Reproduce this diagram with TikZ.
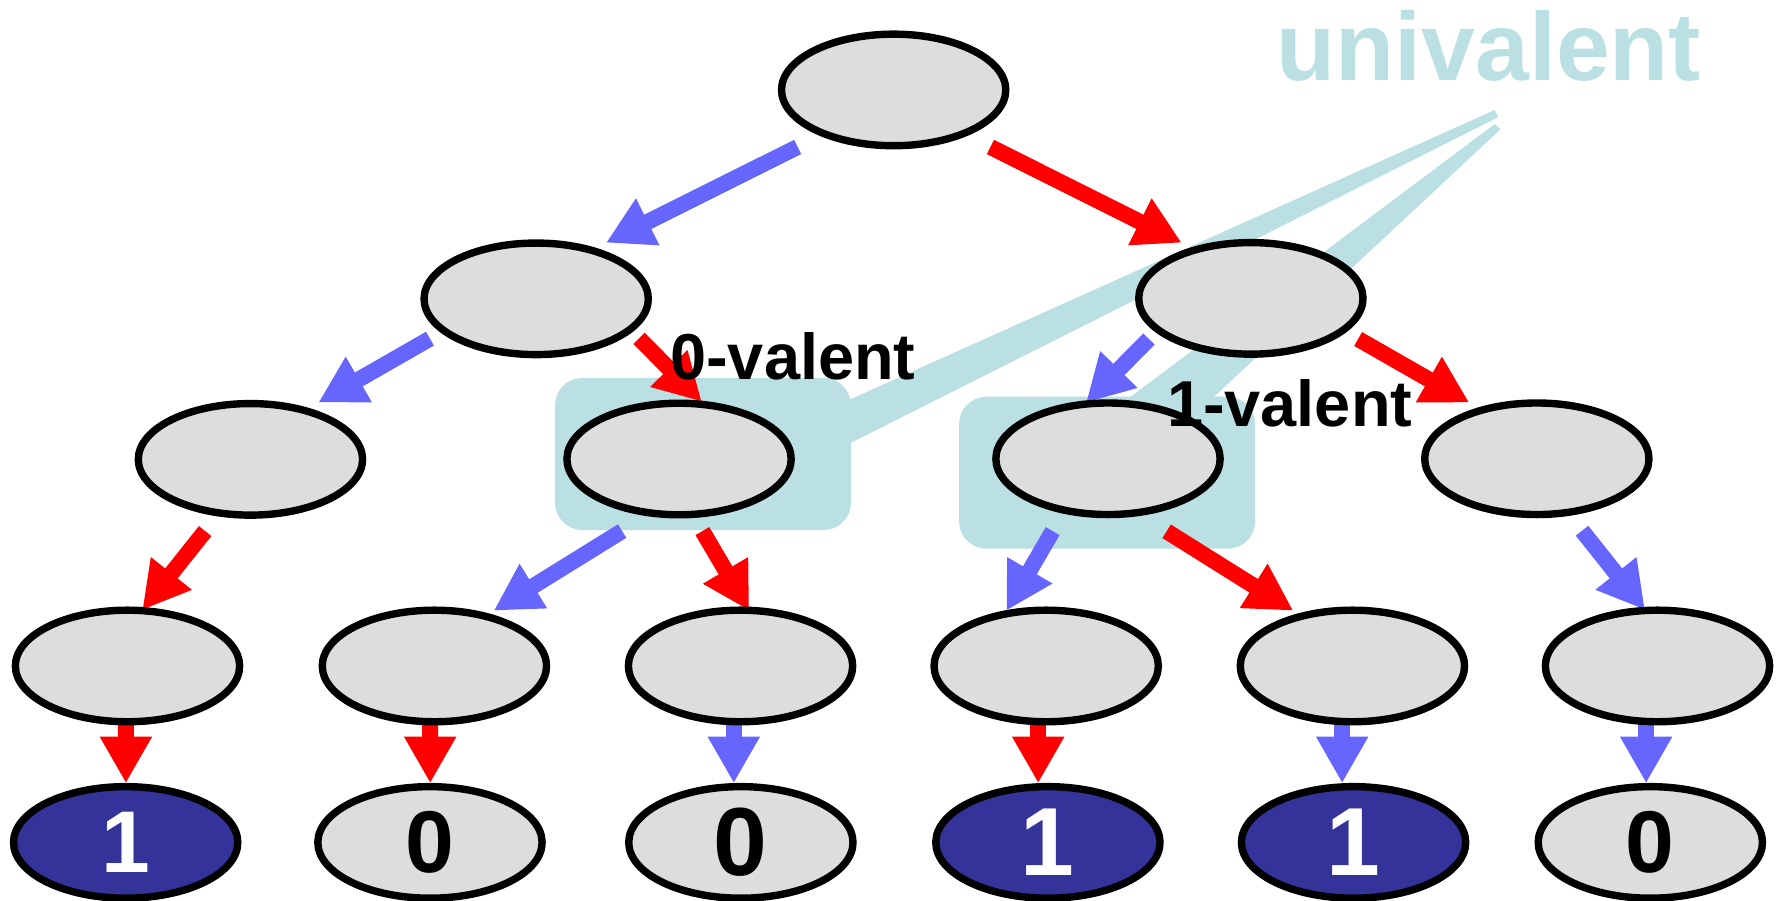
\documentclass[tikz,border=0pt]{standalone}
\usepackage{fontspec}
\setmainfont{Liberation Sans}
\usetikzlibrary{arrows.meta,shapes.geometric}
\definecolor{cal}{RGB}{187,224,227}
\definecolor{ngray}{RGB}{221,221,221}
\definecolor{nblue}{RGB}{51,51,153}
\definecolor{ablue}{RGB}{102,102,255}
\definecolor{ared}{RGB}{255,0,0}
\pgfdeclarelayer{bg}
\pgfsetlayers{bg,main}
\begin{document}
\begin{tikzpicture}[x=1pt,y=-1pt,
  st/.style={ellipse,draw=black,line width=6.5pt,fill=ngray,minimum width=197pt,minimum height=98pt,inner sep=0pt},
  leafone/.style={st,fill=nblue,text=white},
  bigd/.style={font=\fontsize{85}{90}\selectfont\bfseries},
  smalld/.style={font=\fontsize{77}{80}\selectfont\bfseries},
  arr/.style={line width=14pt,-{Triangle[width=43pt,length=41pt]}},
  ra/.style={arr,draw=ared},
  ba/.style={arr,draw=ablue},
  lbl/.style={font=\fontsize{57}{60}\selectfont\bfseries,inner sep=0pt,anchor=base west},
]
\useasboundingbox (0,0) rectangle (1568,791);

% nodes
\node[st] (root) at (785,79) {};
\node[st] (l1a) at (471,262.5) {};
\node[st] (l1b) at (1098.8,262.1) {};
\node[st] (l2a) at (220,403.5) {};
\node[st] (l2b) at (596.5,403.2) {};
\node[st] (l2c) at (973.3,403) {};
\node[st] (l2d) at (1350,403) {};
\node[st] (l3a) at (112,585) {};
\node[st] (l3b) at (381.6,585) {};
\node[st] (l3c) at (650.5,585) {};
\node[st] (l3d) at (919,585) {};
\node[st] (l3e) at (1188,585) {};
\node[st] (l3f) at (1456,585) {};
\node[leafone,smalld] (l4a) at (110.4,740) {1};
\node[st,smalld] (l4b) at (377.7,740) {0};
\node[st,bigd] (l4c) at (650.8,740) {0};
\node[leafone,bigd] (l4d) at (920.5,740) {1};
\node[leafone,bigd] (l4e) at (1189,740) {1};
\node[st,smalld] (l4f) at (1449.7,740) {0};

\begin{pgfonlayer}{bg}
\fill[white] (0,0) rectangle (1568,791);
% callouts
\fill[cal,rounded corners=24pt] (487.5,332) rectangle (747.5,465.6);
\fill[cal] (740,353.9) -- (1313,96.6) -- (1316,103) -- (740,392.7) -- cycle;
\fill[cal,rounded corners=24pt] (842.5,348.5) rectangle (1102.5,482);
\fill[cal] (984.6,355) -- (1313,109) -- (1318,113.6) -- (1059.5,355) -- cycle;
% arrows
\draw[ba] ([shift={(-84.3,50.1)}]root.center) -- ([shift={(61.3,-49.3)}]l1a.center);
\draw[ra] ([shift={(85,50.1)}]root.center) -- ([shift={(-60.8,-48.9)}]l1b.center);
\draw[ba] ([shift={(-93.3,35)}]l1a.center) -- ([shift={(59.6,-49.8)}]l2a.center);
\draw[ra] ([shift={(90.3,34.7)}]l1a.center) -- ([shift={(19.9,-50.4)}]l2b.center);
\draw[ba] ([shift={(-89.5,35.7)}]l1b.center) -- ([shift={(-19.3,-49.3)}]l2c.center);
\draw[ra] ([shift={(94.2,35.7)}]l1b.center) -- ([shift={(-59.3,-49.3)}]l2d.center);
\draw[ra] ([shift={(-39.8,63)}]l2a.center) -- ([shift={(13,-49.2)}]l3a.center);
\draw[ba] ([shift={(-50,63.3)}]l2b.center) -- ([shift={(52.1,-48.6)}]l3b.center);
\draw[ra] ([shift={(20.5,63.3)}]l2b.center) -- ([shift={(7.6,-48.6)}]l3c.center);
\draw[ba] ([shift={(-48.6,63.5)}]l2c.center) -- ([shift={(-35,-48.6)}]l3d.center);
\draw[ra] ([shift={(51.5,63.7)}]l2c.center) -- ([shift={(-52,-48.6)}]l3e.center);
\draw[ba] ([shift={(39.7,63.2)}]l2d.center) -- ([shift={(-11,-49.2)}]l3f.center);
\draw[ra] ([shift={(-1.4,50)}]l3a.center) -- ([shift={(0.2,-52)}]l4a.center);
\draw[ra] ([shift={(-3.7,50)}]l3b.center) -- ([shift={(0.2,-52)}]l4b.center);
\draw[ba] ([shift={(-5.9,50)}]l3c.center) -- ([shift={(-6.2,-52)}]l4c.center);
\draw[ra] ([shift={(-7,50)}]l3d.center) -- ([shift={(-8.5,-52)}]l4d.center);
\draw[ba] ([shift={(-9,50)}]l3e.center) -- ([shift={(-10,-52)}]l4e.center);
\draw[ba] ([shift={(-10,50)}]l3f.center) -- ([shift={(-3.7,-52)}]l4f.center);
\end{pgfonlayer}

% labels
\node[font=\fontsize{85}{90}\selectfont\bfseries,text=cal,inner sep=0pt,anchor=base west] (uni) at (1121,70.9) {univalent};
\node[lbl] (zv) at (588.6,333.8) {0-valent};
\node[lbl] (ov) at (1025,374.8) {1-valent};
\end{tikzpicture}
\end{document}
